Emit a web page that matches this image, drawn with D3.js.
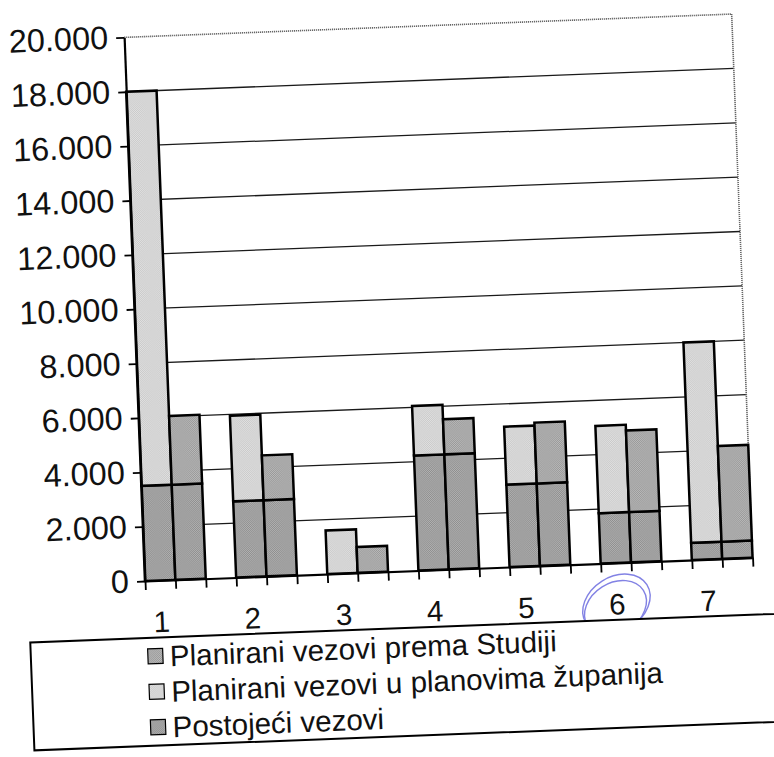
<!DOCTYPE html>
<html>
<head>
<meta charset="utf-8">
<script src="https://cdn.jsdelivr.net/npm/d3@7"></script>
<style>
  html, body { margin: 0; padding: 0; background: #fff; }
  svg { display: block; }
  text { font-family: "Liberation Sans", Arial, sans-serif; fill: #111; }
</style>
</head>
<body>
<svg id="chart" width="774" height="757"></svg>
<script>
// ---- data ----
const categories = ["1", "2", "3", "4", "5", "6", "7"];
// existing berths (bottom segment of both bars)
const postojeci = [3500, 2800, 0, 4230, 3030, 1850, 630];
// additional berths planned in county plans (top of left bar)
const planoviZupanija = [14500, 3150, 1600, 1820, 2130, 3210, 7370];
// additional berths planned by the study (top of right bar)
const premaStudiji = [2530, 1650, 950, 1290, 2240, 3000, 3520];
const yTicks = [0, 2000, 4000, 6000, 8000, 10000, 12000, 14000, 16000, 18000, 20000];
const seriesNames = [
  "Planirani vezovi prema Studiji",
  "Planirani vezovi u planovima županija",
  "Postojeći vezovi"
];

// ---- layout ----
const W = 608, H = 544;
const originX = 145, originY = 581, tilt = -2.2;
const axisFont = 32.5, labelFont = 29.5;

const svg = d3.select("#chart");
const defs = svg.append("defs");

// halftone-like fills
function dither(id, base, dot) {
  const p = defs.append("pattern").attr("id", id)
    .attr("patternUnits", "userSpaceOnUse").attr("width", 2).attr("height", 2);
  p.append("rect").attr("width", 2).attr("height", 2).attr("fill", base);
  p.append("rect").attr("x", 0).attr("y", 0).attr("width", 1).attr("height", 1).attr("fill", dot);
  p.append("rect").attr("x", 1).attr("y", 1).attr("width", 1).attr("height", 1).attr("fill", dot);
}
dither("fill-studija", "#bcbcbc", "#969696");
dither("fill-zupanija", "#e2e2e2", "#c8c8c8");
dither("fill-postojeci", "#b4b4b4", "#8c8c8c");
const fills = ["url(#fill-studija)", "url(#fill-zupanija)", "url(#fill-postojeci)"];

const root = svg.append("g")
  .attr("transform", `translate(${originX},${originY}) rotate(${tilt})`);
const plot = root.append("g").attr("transform", `translate(0,${-H})`);

// ---- scales ----
const y = d3.scaleLinear().domain([0, 20000]).range([H, 0]);
const x0 = d3.scaleBand().domain(categories).range([0, W])
  .paddingInner(1 / 3).paddingOuter(0);
const x1 = d3.scaleBand().domain(["zupanija", "studija"]).range([0, x0.bandwidth()]);
const slots = d3.scaleLinear().domain([0, 20]).range([0, W]);

// ---- gridlines ----
plot.append("g").selectAll("line")
  .data(yTicks.filter(v => v > 0 && v < 20000))
  .join("line")
  .attr("x1", 0).attr("x2", W)
  .attr("y1", d => y(d)).attr("y2", d => y(d))
  .attr("stroke", "#1a1a1a").attr("stroke-width", 1.3);

// plot frame (top and right)
plot.append("path")
  .attr("d", `M0,${y(20000)}H${W}V${y(0)}`)
  .attr("fill", "none").attr("stroke", "#666")
  .attr("stroke-width", 1.6).attr("stroke-dasharray", "1.2 0.8");

// ---- bars ----
const bars = [];
categories.forEach((c, i) => {
  const p = postojeci[i];
  const xl = x0(c) + x1("zupanija");
  const xr = x0(c) + x1("studija");
  if (p > 0) {
    bars.push({ x: xl, v0: 0, v1: p, fill: fills[2] });
    bars.push({ x: xr, v0: 0, v1: p, fill: fills[2] });
  }
  bars.push({ x: xl, v0: p, v1: p + planoviZupanija[i], fill: fills[1] });
  bars.push({ x: xr, v0: p, v1: p + premaStudiji[i], fill: fills[0] });
});
plot.append("g").selectAll("rect")
  .data(bars)
  .join("rect")
  .attr("x", d => d.x)
  .attr("width", x1.bandwidth())
  .attr("y", d => y(d.v1))
  .attr("height", d => y(d.v0) - y(d.v1))
  .attr("fill", d => d.fill)
  .attr("stroke", "#000").attr("stroke-width", 2.5);

// ---- axes ----
const fmt = d3.formatLocale({ decimal: ",", thousands: ".", grouping: [3], currency: ["", ""] }).format(",");

const yAxis = plot.append("g")
  .call(d3.axisLeft(y).tickValues(yTicks).tickFormat(fmt).tickSize(8).tickSizeOuter(0).tickPadding(8));
yAxis.select(".domain").attr("stroke", "#000").attr("stroke-width", 2.2);
yAxis.selectAll(".tick line").attr("stroke", "#000").attr("stroke-width", 1.8);
yAxis.selectAll(".tick text")
  .attr("font-size", axisFont).attr("fill", "#111")
  .style("font-family", '"Liberation Sans", Arial, sans-serif');

const xAxis = plot.append("g").attr("transform", `translate(0,${H})`)
  .call(d3.axisBottom(slots).tickValues(d3.range(0, 21)).tickFormat("").tickSize(9).tickSizeOuter(0));
xAxis.select(".domain").attr("stroke", "#000").attr("stroke-width", 2.2);
xAxis.selectAll(".tick line").attr("stroke", "#000").attr("stroke-width", 1.8);

// category labels under the first bar of each pair
plot.append("g").selectAll("text")
  .data(categories)
  .join("text")
  .attr("x", d => x0(d) + x1("zupanija") + x1.bandwidth() / 2)
  .attr("y", H + 41)
  .attr("dy", "0.36em")
  .attr("text-anchor", "middle")
  .attr("font-size", labelFont)
  .text(d => d);

// hand-drawn highlight around category 6
const c6x = x0("6") + x1("zupanija") + x1.bandwidth() / 2;
const hl = plot.append("g")
  .attr("transform", `translate(${c6x - 1},${H + 41}) rotate(-30)`)
  .attr("fill", "none").attr("stroke", "#6d6de0").attr("stroke-width", 1.4).attr("opacity", 0.85);
hl.append("ellipse").attr("rx", 36).attr("ry", 27);
hl.append("ellipse").attr("cx", -3).attr("cy", 3).attr("rx", 33).attr("ry", 25);

// ---- legend ----
const legend = plot.append("g").attr("transform", `translate(-117,${H + 57})`);
legend.append("rect")
  .attr("width", 900).attr("height", 108)
  .attr("fill", "#fff").attr("stroke", "#000").attr("stroke-width", 2);
const items = legend.selectAll("g.item")
  .data(seriesNames)
  .join("g").attr("class", "item")
  .attr("transform", (d, i) => `translate(117,${18.5 + 35.5 * i})`);
items.append("rect")
  .attr("x", 0).attr("y", -7.5).attr("width", 15).attr("height", 15)
  .attr("fill", (d, i) => fills[i]).attr("stroke", "#000").attr("stroke-width", 1.2);
items.append("text")
  .attr("x", 22).attr("dy", "0.36em")
  .attr("font-size", labelFont)
  .text(d => d);
</script>
</body>
</html>
